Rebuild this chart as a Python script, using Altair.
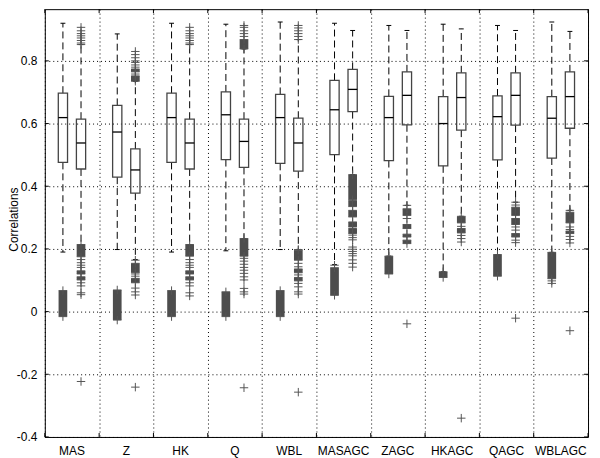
import altair as alt
import pandas as pd

groups = ["MAS", "Z", "HK", "Q", "WBL", "MASAGC", "ZAGC", "HKAGC", "QAGC", "WBLAGC"]

left_whisker_low = [0.190, 0.198, 0.190, 0.194, 0.198, 0.150, 0.177, 0.127, 0.182, 0.189]
left_q1 = [0.476, 0.429, 0.476, 0.485, 0.473, 0.501, 0.482, 0.465, 0.484, 0.490]
left_median = [0.619, 0.573, 0.619, 0.628, 0.619, 0.644, 0.619, 0.600, 0.622, 0.617]
left_q3 = [0.697, 0.658, 0.697, 0.701, 0.693, 0.738, 0.687, 0.686, 0.688, 0.686]
left_whisker_high = [0.920, 0.886, 0.920, 0.917, 0.924, 0.920, 0.913, 0.917, 0.913, 0.924]

right_whisker_low = [0.214, 0.166, 0.214, 0.233, 0.198, 0.437, 0.339, 0.304, 0.349, 0.323]
right_q1 = [0.455, 0.378, 0.455, 0.460, 0.448, 0.638, 0.596, 0.579, 0.595, 0.585]
right_median = [0.538, 0.452, 0.538, 0.543, 0.538, 0.709, 0.690, 0.683, 0.690, 0.686]
right_q3 = [0.614, 0.519, 0.614, 0.614, 0.617, 0.773, 0.765, 0.762, 0.762, 0.765]
right_whisker_high = [0.852, 0.735, 0.852, 0.838, 0.868, 0.897, 0.897, 0.902, 0.897, 0.894]

# dense runs of outliers: (group index, 0 = left box / 1 = right box, low, high)
outlier_runs = [
    (0, 0, -0.016, 0.067), (1, 0, -0.027, 0.069), (2, 0, -0.016, 0.067),
    (3, 0, -0.016, 0.063), (4, 0, -0.016, 0.067), (5, 0, 0.052, 0.140),
    (6, 0, 0.120, 0.177), (7, 0, 0.109, 0.127), (8, 0, 0.113, 0.182),
    (9, 0, 0.105, 0.189),
    (0, 1, 0.175, 0.214), (0, 1, 0.120, 0.130), (0, 1, 0.101, 0.111),
    (1, 1, 0.735, 0.752), (1, 1, 0.765, 0.774), (1, 1, 0.124, 0.154), (1, 1, 0.092, 0.106),
    (2, 1, 0.177, 0.214), (2, 1, 0.120, 0.130), (2, 1, 0.101, 0.111),
    (3, 1, 0.838, 0.868), (3, 1, 0.177, 0.233),
    (4, 1, 0.164, 0.196), (4, 1, 0.124, 0.136), (4, 1, 0.098, 0.109),
    (5, 1, 0.357, 0.437), (5, 1, 0.335, 0.354), (5, 1, 0.302, 0.323),
    (5, 1, 0.270, 0.286), (5, 1, 0.249, 0.265),
    (6, 1, 0.307, 0.328), (6, 1, 0.265, 0.278), (6, 1, 0.238, 0.247), (6, 1, 0.217, 0.228),
    (7, 1, 0.283, 0.304), (7, 1, 0.251, 0.265),
    (8, 1, 0.307, 0.333), (8, 1, 0.278, 0.297), (8, 1, 0.238, 0.249),
    (9, 1, 0.283, 0.317), (9, 1, 0.249, 0.257),
]

# individual outliers: (group index, box side, values)
outlier_points = [
    (0, 1, [0.907, 0.896, 0.887, 0.880, 0.873, 0.865, 0.857, 0.852,
            0.166, 0.156, 0.148, 0.141, 0.092, 0.082, 0.060, 0.054, -0.223]),
    (1, 1, [0.830, 0.820, 0.810, 0.800, 0.795, 0.787, 0.780, 0.758,
            0.164, 0.120, 0.113, 0.075, 0.063, 0.053, -0.241]),
    (2, 1, [0.907, 0.896, 0.887, 0.880, 0.873, 0.865, 0.857, 0.852,
            0.166, 0.156, 0.148, 0.141, 0.092, 0.082, 0.060, 0.050]),
    (3, 1, [0.913, 0.907, 0.896, 0.887, 0.878,
            0.170, 0.161, 0.151, 0.141, 0.132, 0.122, 0.111, 0.101, 0.074, 0.063, 0.056, -0.243]),
    (4, 1, [0.913, 0.905, 0.896, 0.887, 0.878, 0.868,
            0.198, 0.154, 0.143, 0.117, 0.090, 0.079, 0.063, 0.056, -0.257]),
    (5, 0, [0.148]),
    (5, 1, [0.244, 0.236, 0.229, 0.206, 0.199, 0.192, 0.185, 0.178, 0.165, 0.154, 0.142]),
    (6, 1, [0.339, 0.297, -0.039]),
    (7, 1, [0.272, 0.243, 0.233, 0.222, -0.340]),
    (8, 1, [0.349, 0.340, 0.270, 0.260, 0.228, 0.220, -0.021]),
    (9, 0, [0.098, 0.090]),
    (9, 1, [0.323, 0.270, 0.262, 0.240, 0.230, 0.219, -0.061]),
]

y_ticks = [-0.4, -0.2, 0, 0.2, 0.4, 0.6, 0.8]
x_ticks = list(range(11))

W, H = 546, 430


def box_pos(g, side):
    return g + (side + 1) / 3.0


box_rows = []
for g in range(len(groups)):
    stats = [
        (left_whisker_low[g], left_q1[g], left_median[g], left_q3[g], left_whisker_high[g]),
        (right_whisker_low[g], right_q1[g], right_median[g], right_q3[g], right_whisker_high[g]),
    ]
    for side, (lo, q1, md, q3, hi) in enumerate(stats):
        p = box_pos(g, side)
        box_rows.append(dict(pos=p, xl=p - 0.085, xr=p + 0.085, cl=p - 0.045, cr=p + 0.045,
                             lo=lo, q1=q1, med=md, q3=q3, hi=hi))
boxes = pd.DataFrame(box_rows)

run_rows, pt_rows = [], []
for g, side, lo, hi in outlier_runs:
    p = box_pos(g, side)
    run_rows.append(dict(bl=p - 0.08, br=p + 0.08, lo=lo, hi=hi))
    pt_rows.append(dict(pos=p, v=lo))
    pt_rows.append(dict(pos=p, v=hi))
for g, side, vals in outlier_points:
    p = box_pos(g, side)
    for v in vals:
        pt_rows.append(dict(pos=p, v=v))
runs = pd.DataFrame(run_rows)
pts = pd.DataFrame(pt_rows)

labels = pd.DataFrame({"label": groups, "c": [i + 0.5 for i in range(len(groups))]})

xs = alt.Scale(domain=[0, 10], nice=False, zero=False)
ys = alt.Scale(domain=[-0.4, 0.965], nice=False, zero=False)

AX_X = alt.Axis(values=x_ticks, grid=True, labels=False, ticks=False, domain=False, title=None)
AX_Y = alt.Axis(values=y_ticks, grid=True, ticks=False, domain=False, labelPadding=8,
                labelExpr="'' + datum.value", title="Correlations",
                titleX=-24, titleY=H / 2 - 4, titleAngle=270, titleBaseline="bottom",
                titleAlign="center")


def X(f):
    return alt.X(f, type="quantitative", scale=xs, axis=AX_X)


def Y(f):
    return alt.Y(f, type="quantitative", scale=ys, axis=AX_Y)


yt = pd.DataFrame({"v": y_ticks})
xt = pd.DataFrame({"v": x_ticks})

y_left_ticks = alt.Chart(yt).mark_rule(color="black").encode(
    y=Y("v"), x=alt.value(0), x2=alt.value(4))
y_right_ticks = alt.Chart(yt).mark_rule(color="black").encode(
    y=Y("v"), x=alt.value(W - 4), x2=alt.value(W))
x_bottom_ticks = alt.Chart(xt).mark_rule(color="black").encode(
    x=X("v"), y=alt.value(H - 4), y2=alt.value(H))
x_top_ticks = alt.Chart(xt).mark_rule(color="black").encode(
    x=X("v"), y=alt.value(0), y2=alt.value(4))

base = alt.Chart(boxes)
whisk_up = base.mark_rule(color="black", strokeWidth=1, strokeDash=[7, 4]).encode(
    x=X("pos"), y=Y("q3"), y2="hi")
whisk_dn = base.mark_rule(color="black", strokeWidth=1, strokeDash=[7, 4]).encode(
    x=X("pos"), y=Y("q1"), y2="lo")
cap_hi = base.mark_rule(color="black", strokeWidth=1).encode(x=X("cl"), x2="cr", y=Y("hi"))
cap_lo = base.mark_rule(color="black", strokeWidth=1).encode(x=X("cl"), x2="cr", y=Y("lo"))
box = base.mark_rect(fill="white", fillOpacity=0, stroke="#444444", strokeWidth=1.3).encode(
    x=X("xl"), x2="xr", y=Y("q1"), y2="q3")
median = base.mark_rule(color="black", strokeWidth=1.3).encode(x=X("xl"), x2="xr", y=Y("med"))

run_layer = alt.Chart(runs).mark_rect(color="#4d4d4d").encode(
    x=X("bl"), x2="br", y=Y("lo"), y2="hi")
pt_layer = alt.Chart(pts).mark_point(
    shape="M-1,0L1,0M0,-1L0,1", size=72, filled=False, stroke="#555555",
    strokeWidth=1, opacity=1).encode(x=X("pos"), y=Y("v"))

label_layer = alt.Chart(labels).mark_text(
    font="Liberation Sans", fontSize=12, color="black", baseline="alphabetic", align="center"
).encode(x=X("c"), y=alt.value(H + 18), text="label:N")

chart = alt.layer(
    y_left_ticks, y_right_ticks, x_bottom_ticks, x_top_ticks,
    whisk_up, whisk_dn, cap_hi, cap_lo, box, median, run_layer, pt_layer, label_layer
).properties(
    width=W, height=H,
    autosize=alt.AutoSizeParams(type="none"),
    padding={"left": 37, "top": 0, "right": 4, "bottom": 24},
).configure_view(
    stroke="black", strokeWidth=1
).configure_axis(
    gridColor="black", gridDash=[1, 3], gridOpacity=1, gridWidth=1,
    labelFont="Liberation Sans", labelFontSize=12, labelColor="black",
    titleFont="Liberation Sans", titleFontSize=12, titleFontWeight="normal", titleColor="black",
)

chart.save("out.html", embed_options={"renderer": "svg", "actions": False})
